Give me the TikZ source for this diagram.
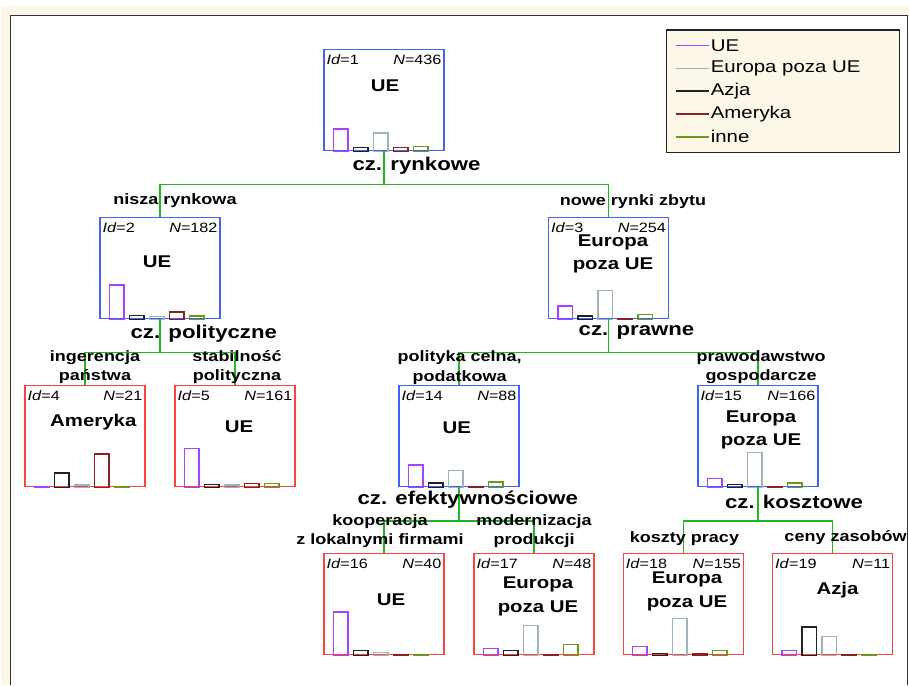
\documentclass[tikz,border=0pt]{standalone}
\usepackage{fontspec}
\setmainfont[FakeStretch=1.2]{Liberation Sans}
\definecolor{cream}{HTML}{FDF7E8}
\definecolor{framegray}{HTML}{333333}
\definecolor{boxblue}{HTML}{4060FF}
\definecolor{boxred}{HTML}{FF4040}
\definecolor{edgegreen}{HTML}{22B422}
\definecolor{ue}{HTML}{A544FF}
\definecolor{eur}{HTML}{9DB4BC}
\definecolor{azja}{HTML}{222222}
\definecolor{amer}{HTML}{8E2020}
\definecolor{inne}{HTML}{6A9A1A}

\tikzset{
  innerbox/.style={draw=boxblue,line width=1.4pt,minimum width=120pt,minimum height=101pt,inner sep=0pt},
  leafbox/.style={innerbox,draw=boxred},
  edge/.style={draw=edgegreen,line width=1.4pt},
  bar/.style={line width=1.4pt},
  idtext/.style={font=\fontsize{13.5}{16}\selectfont,inner sep=0pt},
  classtext/.style={font=\bfseries\fontsize{17}{23.3}\selectfont,align=center,inner sep=0pt},
  splittext/.style={font=\bfseries\fontsize{18.5}{22}\selectfont,inner sep=0pt},
  edgetext/.style={font=\bfseries\fontsize{15}{19.6}\selectfont,align=center,inner sep=0pt},
  legendbox/.style={draw=azja,fill=cream,line width=1.4pt,minimum width=232.6pt,minimum height=122.7pt},
  legendtext/.style={font=\fontsize{17}{20}\selectfont,inner sep=1.5pt}
}

\begin{document}
\begin{tikzpicture}[x=1pt,y=-1pt]
  \useasboundingbox (0,0) rectangle (909,685);
  \fill[cream] (1,6) rectangle (909,15.5);
  \fill[cream] (1,6) rectangle (10.5,685);
  \draw[framegray,line width=1.6pt] (10.5,685) -- (10.5,15.5) -- (907.5,15.5) -- (907.5,685);

  \node[legendbox] (leg) at (783,91.3) {};
  \foreach \i/\col/\t in {0/ue/UE,1/eur/Europa poza UE,2/azja/Azja,3/amer/Ameryka,4/inne/inne}{
    \coordinate (lg\i) at (676,45.5+22.8*\i);
    \draw[draw=\col,line width=1.6pt] (lg\i) -- ++(32.5,0) node[legendtext,anchor=west] (lt\i) {\t};
  }

  \foreach \n/\x/\y/\s/\N/\lx/\ly/\lab in {
      1/384/100/innerbox/436/385/86/UE,
      2/160/268/innerbox/182/157/261.7/UE,
      3/608.5/268/innerbox/254/613/254/{Europa\\poza UE},
      4/85/436.2/leafbox/21/93.3/421.7/Ameryka,
      5/235/436.2/leafbox/161/239/426.7/UE,
      14/459/436.2/innerbox/88/456.7/427.7/UE,
      15/758/436.2/innerbox/166/761/430/{Europa\\poza UE},
      16/384/604.2/leafbox/40/391/600/UE,
      17/534/604.2/leafbox/48/538/596.3/{Europa\\poza UE},
      18/683.3/604.2/leafbox/155/687/591.5/{Europa\\poza UE},
      19/832.7/604.2/leafbox/11/837.5/590/Azja}{
    \node[\s] (n\n) at (\x,\y) {};
    \node[idtext,anchor=west] (id\n) at ([xshift=3pt,yshift=-11pt]n\n.north west) {\textit{Id}=\n};
    \node[idtext,anchor=east] (N\n) at ([xshift=-3pt,yshift=-11pt]n\n.north east) {\textit{N}=\N};
    \node[classtext] (cl\n) at (\lx,\ly) {\lab};
  }

  \foreach \n/\ha/\hb/\hc/\hd/\he in {
      1/22.3/4/18.3/3.7/4.7, 2/34.3/4/2.7/7.3/3.3, 3/13.3/3.3/29/0.6/4.7,
      4/0.6/14.3/2.3/33.3/0.6, 5/38.7/3/2.3/3.7/3.7, 14/22.3/4.3/16.7/0.6/5.3,
      15/8.7/2.7/35/0.6/4.3, 16/43.3/5/3/0.6/0.6, 17/6.7/4.7/29.7/0.6/11,
      18/9/1.7/36.7/1.3/4.7, 19/5/28.3/19/0.6/0.6}
    \foreach \h/\col [count=\i from 0] in {\ha/ue,\hb/azja,\hc/eur,\hd/amer,\he/inne}
      \draw[bar,draw=\col] ([xshift=10pt+20pt*\i]n\n.south west) rectangle ++(14.5,-\h);

  \foreach \p in {1,2,3,14,15}
    \coordinate (j\p) at ([yshift=-33.5pt]n\p.south);
  \foreach \p/\a/\b in {1/2/3,2/4/5,3/14/15,14/16/17,15/18/19}{
    \draw[edge] (n\p.south) -- (j\p) -| (n\a.north);
    \draw[edge] (j\p) -| (n\b.north);
  }

  \node[splittext] (s1) at (416.5,165.7) {cz. rynkowe};
  \node[splittext] (s2) at (203.8,334) {cz. polityczne};
  \node[splittext] (s3) at (636.5,332.7) {cz. prawne};
  \node[splittext] (s14) at (467.8,499.3) {cz. efektywnościowe};
  \node[splittext] (s15) at (794,502.3) {cz. kosztowe};

  \node[edgetext] (e2) at (175,200.5) {nisza rynkowa};
  \node[edgetext] (e3) at (633,201.5) {nowe rynki zbytu};
  \node[edgetext] (e4) at (95,367) {ingerencja\\państwa};
  \node[edgetext] (e5) at (237,367) {stabilność\\polityczna};
  \node[edgetext] (e14) at (459.7,367.5) {polityka celna,\\podatkowa};
  \node[edgetext] (e15) at (761,367.3) {prawodawstwo\\gospodarcze};
  \node[edgetext] (e16) at (380,531.3) {kooperacja\\z lokalnymi firmami};
  \node[edgetext] (e17) at (534,531.3) {modernizacja\\produkcji};
  \node[edgetext] (e18) at (684.5,538.3) {koszty pracy};
  \node[edgetext] (e19) at (845.5,538) {ceny zasobów};
\end{tikzpicture}
\end{document}
